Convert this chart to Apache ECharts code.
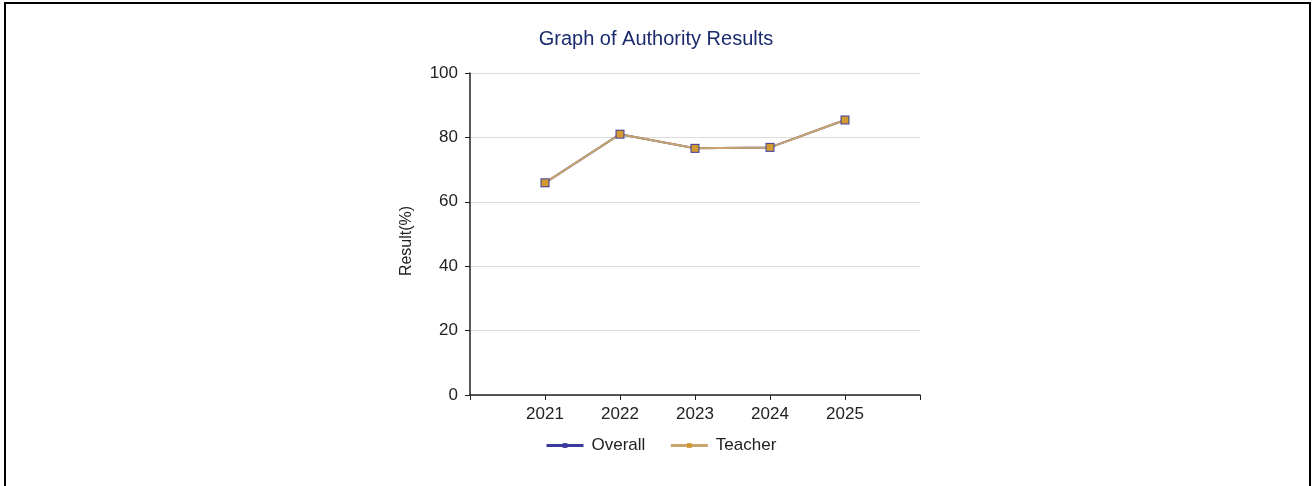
<!DOCTYPE html>
<html>
<head>
<meta charset="utf-8">
<script src="https://cdn.jsdelivr.net/npm/echarts@6/dist/echarts.min.js"></script>
<style>
    html, body { margin: 0; padding: 0; background: #fff; }
    #main { width: 1312px; height: 486px; }
    #frame {
        position: absolute; left: 4px; top: 2px; width: 1307px; height: 500px;
        box-sizing: border-box; border: 2px solid #000; border-bottom: none;
        pointer-events: none;
    }
</style>
</head>
<body>
<div id="main"></div>
<div id="frame"></div>
<script>
// years and results (%)
var years = [2021, 2022, 2023, 2024, 2025];
var overall = [65.9, 81.0, 76.6, 76.9, 85.4];
var teacher = [65.9, 81.0, 76.6, 76.9, 85.4];
var yTicks = [0, 20, 40, 60, 80, 100];

var overallColor = '#3b3b9c';
var teacherColor = '#d29a30';

function pairs(vals) {
    var result = [];
    for (var i = 0; i < years.length; i++) {
        result.push([years[i], vals[i]]);
    }
    return result;
}

var myChart = echarts.init(document.getElementById('main'));
myChart.setOption({
    backgroundColor: '#fff',
    animation: false,
    title: {
        text: 'Graph of Authority Results',
        left: 'center',
        top: 24,
        textStyle: {
            color: '#1c2b6e',
            fontFamily: 'Liberation Sans, Arial',
            fontWeight: 'normal',
            fontSize: 20
        }
    },
    legend: {
        left: 545,
        top: 437,
        padding: 0,
        itemWidth: 37,
        itemHeight: 6,
        itemGap: 24,
        lineStyle: { width: 3 },
        textStyle: {
            color: '#222',
            fontFamily: 'Liberation Sans, Arial',
            fontSize: 17,
            padding: [0, 0, 0, 3]
        },
        data: ['Overall', 'Teacher']
    },
    grid: {
        left: 470,
        right: 392,
        top: 73,
        bottom: 91
    },
    xAxis: {
        type: 'value',
        min: years[0] - 1,
        max: years[years.length - 1] + 1,
        interval: 1,
        axisLine: { lineStyle: { color: '#222', width: 1.5 } },
        axisTick: { length: 5, lineStyle: { color: '#222' } },
        splitLine: { show: false },
        axisLabel: {
            color: '#222',
            fontFamily: 'Liberation Sans, Arial',
            fontSize: 17,
            margin: 11,
            showMinLabel: true,
            showMaxLabel: true,
            formatter: function (v) {
                return years.indexOf(v) >= 0 ? String(v) : '';
            }
        }
    },
    yAxis: {
        type: 'value',
        min: yTicks[0],
        max: yTicks[yTicks.length - 1],
        interval: 20,
        name: 'Result(%)',
        nameLocation: 'middle',
        nameGap: 55,
        nameTextStyle: {
            color: '#222',
            fontFamily: 'Liberation Sans, Arial',
            fontSize: 16,
            padding: [0, 14, 0, 0]
        },
        axisLine: { show: true, lineStyle: { color: '#222', width: 1.5 } },
        axisTick: { show: true, length: 5, lineStyle: { color: '#222' } },
        splitLine: { lineStyle: { color: '#dcdcdc', width: 1 } },
        axisLabel: {
            color: '#222',
            fontFamily: 'Liberation Sans, Arial',
            fontSize: 17,
            margin: 12
        }
    },
    series: [
        {
            name: 'Overall',
            type: 'line',
            data: pairs(overall),
            symbol: 'rect',
            symbolSize: 9,
            itemStyle: { color: overallColor },
            lineStyle: { color: overallColor, width: 2 }
        },
        {
            name: 'Teacher',
            type: 'line',
            data: pairs(teacher),
            symbol: 'rect',
            symbolSize: 7,
            itemStyle: { color: teacherColor },
            lineStyle: { color: '#c9a46c', width: 2 }
        }
    ]
});
</script>
</body>
</html>
